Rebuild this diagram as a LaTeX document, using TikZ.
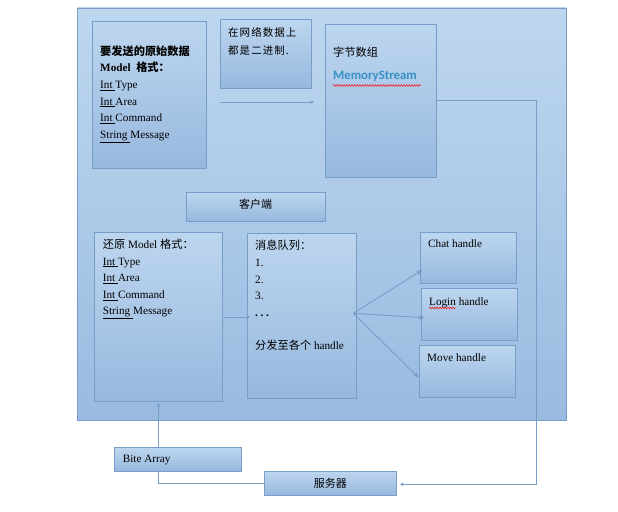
\documentclass[tikz,border=0pt]{standalone}
\usepackage{fontspec}
\setmainfont{Liberation Serif}
\newfontfamily\cjk{Noto Sans CJK SC}
\newfontfamily\cjkw[LetterSpace=10]{Noto Sans CJK SC}
\newfontfamily\cali{Carlito}
\usetikzlibrary{arrows.meta,decorations.pathmorphing,calc}
\definecolor{bgtop}{RGB}{190,215,239}
\definecolor{bgbot}{RGB}{154,187,224}
\definecolor{bxtop}{RGB}{189,214,239}
\definecolor{bxbot}{RGB}{151,184,222}
\definecolor{edge}{RGB}{120,157,200}
\definecolor{msblue}{RGB}{52,146,196}
\begin{document}
\begin{tikzpicture}[x=1pt,y=-1pt,
  box/.style={draw=edge, line width=0.9pt, top color=bxtop, bottom color=bxbot,
    anchor=north west, inner sep=0pt, outer sep=0pt},
  txt/.style={anchor=north west, align=left, inner sep=0pt,
    font=\fontsize{11.2}{16.6}\selectfont},
  ctxt/.style={inner sep=0pt, font=\fontsize{11}{13}\selectfont},
  conn/.style={draw=edge, line width=0.9pt},
  tipS/.style={-{Stealth[length=4pt,width=3.5pt]}},
  tipL/.style={-{Stealth[length=6pt,width=5pt]}},
  wavy/.style={draw=red, line width=0.45pt, decorate,
    decoration={snake, segment length=2.6pt, amplitude=0.9pt}}]
\useasboundingbox (0,0) rectangle (618,511);

% background panel
\node[box, top color=bgtop, bottom color=bgbot, minimum width=489, minimum height=412] (bg) at (77,8) {};

% connectors (drawn before boxes)
\coordinate (c1s) at (220,102);
\coordinate (c1e) at (314,102);
\draw[conn, tipS] (c1s) -- (c1e);

% boxes
\node[box, minimum width=114.5, minimum height=147] (b1) at (92,21.3) {};
\node[box, minimum width=91, minimum height=69] (b2) at (220.3,19.3) {};
\node[box, minimum width=111, minimum height=153] (b3) at (325.3,24.3) {};
\node[box, minimum width=139.5, minimum height=29] (cl) at (186.3,192.3) {};
\node[box, minimum width=128.5, minimum height=169.5] (rs) at (94.3,232.3) {};
\node[box, minimum width=109.5, minimum height=165.5] (q) at (247.3,233.3) {};
\node[box, minimum width=96, minimum height=50.6] (chat) at (420.3,232.7) {};
\node[box, minimum width=96.4, minimum height=52] (login) at (421.3,288.3) {};
\node[box, minimum width=96.4, minimum height=52] (move) at (419.3,345.3) {};

% connectors to the server and back
\coordinate (rt) at (536.7,100.3);
\draw[conn, tipS, shorten >=3.5pt] (b3.east |- rt) -- (rt) |- (396.3,484.3);
\draw[conn, tipS] (264.3,483.3) -| ([yshift=-1pt]rs.south);
\node[box, minimum width=132, minimum height=24] (srv) at (264.3,471.3) {};
\node[box, minimum width=127.4, minimum height=23.7] (bite) at (114.3,447.3) {};

\draw[conn, tipS] (rs.east) -- ([xshift=3pt]rs.east -| q.west);
\coordinate (fo) at (353.3,313.3);
\coordinate (tc) at (422.3,270);
\coordinate (tl) at (424.7,317.7);
\coordinate (tm) at (418.7,377.7);
\draw[conn, tipL] (fo) -- (tc);
\draw[conn, tipL] (fo) -- (tl);
\draw[conn, tipL] (fo) -- (tm);

% texts
\node[txt] (t1) at (100,45.5) {\textbf{\cjk 要发送的原始数据}\\
  \textbf{Model\ \ {\cjk 格式：}}\\
  \underline{Int }Type\\ \underline{Int }Area\\ \underline{Int }Command\\ \underline{String }Message};
\node[txt, font=\fontsize{10.5}{18}\selectfont] (t2) at (228,27) {\cjkw 在网络数据上\\ \cjkw 都是二进制.};
\node[txt] (t3) at (333,47) {\cjk 字节数组};
\node[anchor=north west, inner sep=0pt, font=\cali\bfseries\fontsize{12.8}{14}\selectfont, text=msblue] (t4) at (333,71) {MemoryStream};
\draw[wavy] (333,85.5) -- (421,85.5);
\node[ctxt] (t5) at (255.7,204) {\cjk 客户端};
\node[txt] (t6) at (102.7,238.8) {{\cjk 还原} Model {\cjk 格式：}\\
  \underline{Int }Type\\ \underline{Int }Area\\ \underline{Int }Command\\ \underline{String }Message};
\node[txt] (t7) at (255,240.2) {{\cjk 消息队列：}\\ 1.\\ 2.\\ 3.\\ \textbf{.\hspace{2.6pt}.\hspace{2.6pt}.}\\[16.6pt] {\cjk 分发至各个} handle};
\node[txt] (t8) at (428,240) {Chat handle};
\node[txt] (t9) at (429,297.4) {Login handle};
\draw[wavy] (429,308) -- (456,308);
\node[txt] (t10) at (427,354) {Move handle};
\node[txt] (t11) at (122.7,455) {Bite Array};
\node[ctxt] (t12) at (330.3,483.3) {\cjk 服务器};
\end{tikzpicture}
\end{document}
